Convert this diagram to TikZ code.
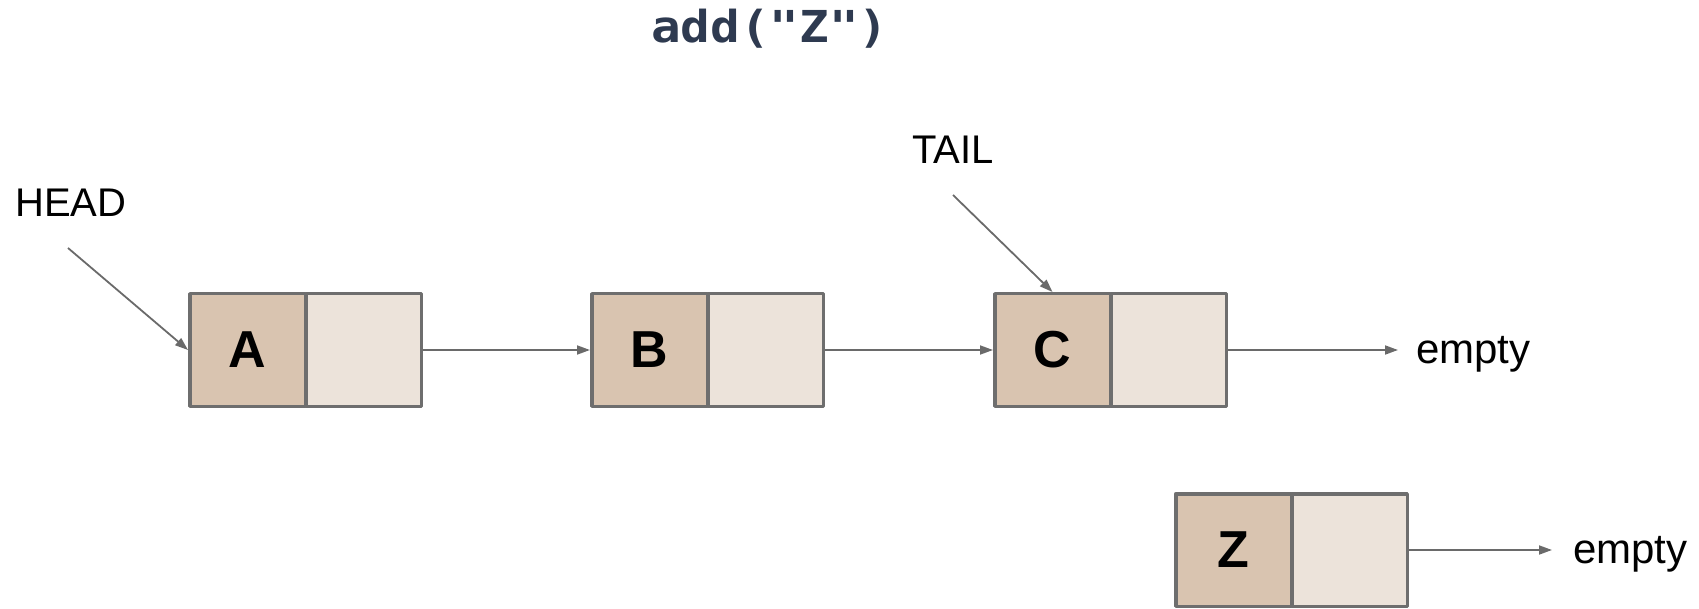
\documentclass[tikz,border=0pt]{standalone}
\usepackage{fontspec}
\setmainfont{Liberation Sans}
\newfontfamily\codefont{DejaVu Sans Mono}
\usetikzlibrary{arrows.meta}

\definecolor{boxline}{HTML}{6E6E6E}
\definecolor{ptrline}{HTML}{6A6A6A}
\definecolor{keyfill}{HTML}{D9C4B0}
\definecolor{linkfill}{HTML}{ECE3DA}
\definecolor{codeink}{HTML}{2E3A50}

\tikzset{
  cell/.style={draw=boxline, line width=3.5pt, line join=round, minimum width=115.5pt,
    minimum height=112.5pt, inner sep=0pt},
  keycell/.style={cell, fill=keyfill, font=\fontsize{52}{60}\selectfont\bfseries},
  linkcell/.style={cell, fill=linkfill},
  ptr/.style={draw=ptrline, line width=1.8pt, -{Triangle[length=13pt,width=9pt]}},
  lbl/.style={font=\fontsize{40}{48}\selectfont, inner sep=0pt},
  endlbl/.style={font=\fontsize{42}{48}\selectfont, inner sep=0pt, text height=26pt,
    text depth=0pt, anchor=west},
}

% one list node: name, left edge x, centre y, key letter
\newcommand\llnode[4]{%
  \node[keycell] (#1L) at (#2+59.5,#3) {#4};
  \node[linkcell] (#1R) at (#2+175.5,#3) {};}

\begin{document}
\begin{tikzpicture}[x=1pt, y=-1pt]
\useasboundingbox (0,0) rectangle (1699,609);

% operation title
\node[anchor=base, inner sep=0pt, text=codeink] (title) at (770,43)
  {\scalebox{1.12}[1]{\codefont\bfseries\fontsize{44}{50}\selectfont add("Z")}};

% the list
\llnode{a}{188}{350}{A}
\llnode{b}{590}{350}{B}
\llnode{c}{993}{350}{C}
\llnode{z}{1174}{550}{Z}

% pointer labels
\node[lbl, anchor=base west] (head) at (15,217) {HEAD};
\node[lbl, anchor=base west] (tail) at (912,164) {TAIL};
\coordinate (headfrom) at (68,248);
\coordinate (tailfrom) at (953,195);

\node[endlbl] (end1) at (1416,350) {empty};
\node[endlbl] (end2) at (1573,550) {empty};

% links
\draw[ptr] (headfrom) -- (aL.west);
\draw[ptr] (tailfrom) -- (cL.north);
\draw[ptr] (aR.east) -- (bL.west);
\draw[ptr] (bR.east) -- (cL.west);
\draw[ptr, shorten >=18pt] (cR.east) -- (end1.west);
\draw[ptr, shorten >=21pt] (zR.east) -- (end2.west);
\end{tikzpicture}
\end{document}
